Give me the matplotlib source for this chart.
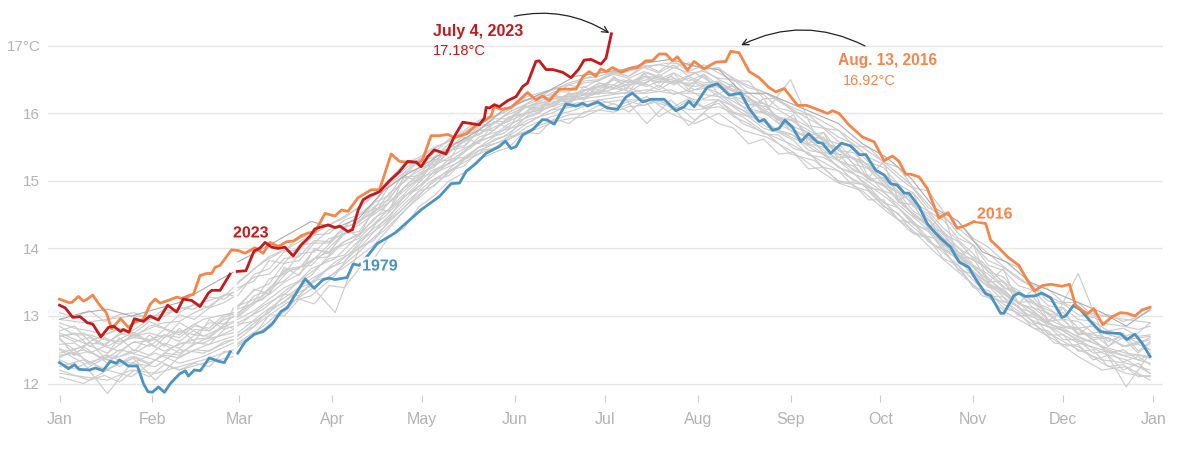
#%% Imports
import numpy as np
import matplotlib
matplotlib.use('Agg')
import matplotlib.pyplot as plt
import matplotlib.patheffects as pe

plt.rcParams['font.family'] = ['Liberation Sans', 'DejaVu Sans']

#%% Data
month_ticks = [0, 31, 60, 91, 121, 152, 182, 213, 244, 274, 305, 335, 365]
month_labels = ['Jan', 'Feb', 'Mar', 'Apr', 'May', 'Jun', 'Jul', 'Aug', 'Sep', 'Oct', 'Nov', 'Dec', 'Jan']
temp_ticks = [12, 13, 14, 15, 16, 17]
temp_labels = ['12', '13', '14', '15', '16', '17°C']

### Days shared by the gray years, first 8 are before the leap day gap
gray_days = [
    0, 8, 16, 24, 32, 40, 48, 58,
    59.5, 68, 76, 84, 92, 100, 108, 116, 124, 132, 140, 148, 156, 164, 172, 180, 188, 196,
    204, 212, 220, 228, 236, 244, 252, 260, 268, 276, 284, 292, 300, 308, 316, 324, 332,
    340, 348, 356, 364,
]
gray_years = [
    [12.95, 12.9, 12.95, 13.0, 13.0, 13.1, 13.2, 13.35,
     13.5, 13.8, 14.0, 14.2, 14.4, 14.6, 14.9, 15.2, 15.45, 15.65, 15.9, 16.0, 16.25, 16.35, 16.45, 16.6, 16.6, 16.7,
     16.75, 16.7, 16.65, 16.45, 16.3, 16.1, 15.95, 15.75, 15.5, 15.25, 14.95, 14.55, 14.3, 14.0, 13.7, 13.45, 13.25,
     13.1, 13.0, 12.95, 12.9],
    [12.15, 12.1, 12.05, 12.2, 12.15, 12.25, 12.35, 12.5,
     12.6, 12.85, 13.15, 13.4, 13.65, 13.95, 14.3, 14.65, 14.95, 15.25, 15.45, 15.6, 15.85, 16.05, 16.1, 16.15, 16.2, 16.2,
     16.1, 16.05, 16.1, 15.95, 15.7, 15.55, 15.35, 15.15, 14.95, 14.65, 14.35, 14.05, 13.75, 13.4, 13.15, 12.9, 12.7,
     12.5, 12.35, 12.3, 12.2],
    [12.75, 12.6, 12.45, 12.7, 12.85, 12.75, 12.95, 13.05,
     13.15, 13.3, 13.7, 13.75, 14.1, 14.4, 14.65, 15.05, 15.25, 15.55, 15.7, 15.95, 16.1, 16.25, 16.25, 16.45, 16.4, 16.6,
     16.45, 16.6, 16.4, 16.3, 16.0, 15.9, 15.7, 15.4, 15.3, 14.95, 14.7, 14.4, 14.0, 13.8, 13.45, 13.2, 13.05,
     12.75, 12.7, 12.55, 12.65],
    [12.4, 12.5, 12.35, 12.45, 12.35, 12.6, 12.6, 12.8,
     12.85, 13.15, 13.35, 13.7, 13.85, 14.2, 14.45, 14.8, 15.15, 15.3, 15.65, 15.75, 16.0, 16.1, 16.3, 16.3, 16.5, 16.4,
     16.55, 16.35, 16.4, 16.15, 16.1, 15.75, 15.6, 15.5, 15.1, 14.9, 14.55, 14.25, 13.95, 13.6, 13.35, 13.05, 12.85,
     12.8, 12.55, 12.45, 12.4],
    [12.5, 12.3, 11.85, 12.3, 12.25, 12.5, 12.45, 12.65,
     12.75, 13.05, 13.3, 13.55, 13.75, 14.05, 14.5, 14.8, 15.05, 15.35, 15.6, 15.7, 15.95, 16.1, 16.2, 16.3, 16.3, 16.35,
     16.3, 16.3, 16.25, 16.0, 15.85, 15.65, 15.5, 15.2, 15.05, 14.8, 14.5, 14.2, 13.85, 13.55, 13.25, 13.0, 12.85,
     12.65, 12.45, 12.35, 12.15],
    [12.25, 12.35, 12.2, 12.4, 12.05, 12.4, 12.55, 12.7,
     12.65, 12.95, 13.2, 13.3, 13.6, 14.1, 14.35, 14.7, 15.0, 15.2, 15.5, 15.65, 15.9, 16.0, 16.15, 16.2, 16.25, 15.85,
     16.2, 15.9, 16.2, 15.85, 15.7, 15.4, 15.3, 15.0, 14.95, 14.6, 14.25, 14.15, 13.7, 13.3, 13.2, 12.95, 12.6,
     12.55, 12.3, 12.15, 12.1],
    [12.35, 12.2, 12.4, 12.3, 12.45, 12.3, 12.4, 12.6,
     12.7, 13.0, 13.25, 13.45, 13.05, 14.0, 14.4, 14.75, 15.1, 15.25, 15.5, 15.75, 15.85, 16.05, 16.2, 16.25, 16.3, 16.3,
     16.35, 16.2, 16.2, 16.05, 15.8, 15.7, 15.45, 15.3, 15.0, 14.75, 14.45, 14.05, 13.9, 13.5, 13.3, 12.95, 12.8,
     12.6, 12.5, 12.4, 12.3],
    [12.7, 12.75, 12.55, 12.75, 12.55, 12.9, 12.7, 12.9,
     13.1, 13.25, 13.65, 13.8, 14.15, 14.35, 14.6, 14.95, 15.2, 15.5, 15.7, 15.85, 16.1, 16.2, 16.3, 16.4, 16.35, 16.55,
     16.5, 16.4, 16.45, 16.3, 16.05, 16.5, 15.7, 15.45, 15.25, 15.0, 14.7, 14.35, 13.95, 13.75, 13.4, 13.25, 12.95,
     13.63, 12.75, 12.65, 12.7],
    [12.45, 12.55, 12.3, 12.6, 12.65, 12.45, 12.65, 12.75,
     12.9, 13.1, 13.4, 13.6, 14.0, 14.15, 14.5, 14.85, 15.2, 15.4, 15.6, 15.85, 16.0, 16.15, 16.25, 16.3, 16.4, 16.5,
     16.45, 16.45, 16.3, 16.1, 16.0, 15.8, 15.55, 15.3, 15.1, 14.9, 14.55, 14.3, 13.9, 13.65, 13.3, 13.1, 12.85,
     12.7, 12.55, 11.95, 12.45],
    [12.1, 12.0, 12.2, 12.1, 12.35, 12.2, 12.3, 12.4,
     12.55, 12.8, 13.1, 13.5, 13.8, 14.0, 14.25, 14.6, 14.9, 15.2, 15.4, 15.55, 15.8, 15.95, 16.05, 16.2, 16.1, 16.25,
     16.0, 15.85, 16.0, 15.75, 15.65, 15.45, 15.2, 14.97, 14.85, 14.55, 14.3, 13.95, 13.65, 13.35, 13.05, 12.85, 12.65,
     12.4, 12.2, 12.25, 12.05],
]
dark_gray_year = [
    12.95, 13.05, 13.1, 13.0, 13.1, 13.2, 13.4, 13.65,
    13.8, 14.0, 14.2, 14.4, 14.3, 14.45, 14.85, 15.1, 15.3, 15.55, 15.75, 16.05, 16.2, 16.35, 16.55, 16.6, 16.65, 16.75,
    16.8, 16.7, 16.65, 16.3, 16.3, 16.15, 16.0, 15.85, 15.55, 15.35, 15.05, 14.6, 14.4, 13.95, 13.8, 13.5, 13.35,
    13.2, 13.05, 12.85, 13.1,
]

### More gray years, read on a finer day grid
fine_days_before = [0, 5, 10, 15, 20, 25, 30, 35, 40, 45, 50, 55, 58]
fine_days_after = [
    59.5, 65, 70, 75, 80, 85, 90, 95, 100, 105, 110, 115,
    120, 125, 130, 135, 140, 145, 150, 155, 160, 165, 170, 175,
    180, 185, 190, 195, 200, 205, 210, 215, 220, 225, 230, 235,
    240, 245, 250, 255, 260, 265, 270, 275, 280, 285, 290, 295,
    300, 305, 310, 315, 320, 325, 330, 335, 340, 345, 350, 355,
    360, 364,
]
fine_years = [
    [12.9, 12.82, 12.78, 12.72, 12.8, 12.7, 12.75, 12.68, 12.78, 12.72, 12.9, 12.88, 13.0,
     13.05, 13.2, 13.32, 13.5, 13.62, 13.85, 13.88, 14.1, 14.2, 14.45, 14.58, 14.9,
     15.02, 15.3, 15.42, 15.6, 15.78, 15.85, 16.02, 16.12, 16.25, 16.28, 16.42, 16.38,
     16.5, 16.58, 16.52, 16.62, 16.55, 16.68, 16.6, 16.62, 16.52, 16.5, 16.3, 16.28,
     16.08, 16.02, 15.82, 15.78, 15.58, 15.5, 15.28, 15.2, 14.95, 14.82, 14.55, 14.42,
     14.15, 14.05, 13.75, 13.68, 13.45, 13.38, 13.15, 13.12, 12.95, 12.92, 12.78, 12.82,
     12.7, 12.72],
    [12.3, 12.22, 12.32, 12.2, 12.3, 12.38, 12.28, 12.45, 12.42, 12.6, 12.58, 12.8, 12.85,
     13.0, 13.22, 13.55, 13.62, 13.92, 13.95, 14.15, 14.2, 14.42, 14.52, 14.82, 14.98,
     15.2, 15.25, 15.5, 15.52, 15.75, 15.75, 15.95, 15.98, 16.15, 16.1, 16.28, 16.2,
     16.35, 16.3, 16.38, 16.3, 16.42, 16.28, 16.35, 16.22, 16.3, 16.12, 16.0, 15.92,
     15.72, 15.68, 15.45, 15.42, 15.2, 15.12, 14.9, 14.85, 14.6, 14.38, 14.25, 13.98,
     13.85, 13.58, 13.45, 13.22, 13.15, 12.9, 12.85, 12.65, 12.65, 12.45, 12.48, 12.32,
     12.4, 12.28],
    [12.65, 12.5, 12.6, 12.58, 12.72, 12.8, 12.95, 13.0, 13.12, 13.1, 13.28, 13.25, 13.35,
     13.38, 13.58, 13.62, 13.85, 13.88, 14.12, 14.1, 14.32, 14.38, 14.62, 14.72, 15.05,
     15.08, 15.35, 15.42, 15.62, 15.68, 15.88, 15.88, 16.1, 16.08, 16.25, 16.2, 16.35,
     16.35, 16.5, 16.4, 16.55, 16.45, 16.52, 16.42, 16.55, 16.38, 16.4, 16.12, 16.15,
     15.9, 15.92, 15.62, 15.65, 15.35, 15.35, 15.02, 15.05, 14.68, 14.65, 14.3, 14.25,
     13.88, 13.85, 13.5, 13.52, 13.2, 13.22, 12.92, 12.95, 12.72, 12.75, 12.55, 12.68,
     12.45, 12.6],
    [12.42, 12.45, 12.32, 12.38, 12.25, 12.4, 12.3, 12.42, 12.38, 12.5, 12.48, 12.62, 12.65,
     12.72, 12.85, 13.1, 13.2, 13.42, 13.5, 13.72, 13.8, 14.02, 14.12, 14.42, 14.6,
     14.85, 14.92, 15.15, 15.22, 15.45, 15.48, 15.65, 15.72, 15.82, 15.9, 15.98, 16.0,
     16.12, 16.08, 16.18, 16.12, 16.22, 16.05, 16.2, 16.08, 16.15, 15.95, 15.85, 15.7,
     15.68, 15.48, 15.42, 15.2, 15.15, 14.92, 14.85, 14.62, 14.52, 14.22, 14.15, 13.85,
     13.75, 13.42, 13.38, 13.12, 13.05, 12.82, 12.78, 12.55, 12.58, 12.35, 12.42, 12.2,
     12.3, 12.15],
    [12.78, 12.85, 12.62, 12.72, 12.82, 12.75, 12.92, 12.82, 13.02, 12.95, 13.12, 13.2, 13.28,
     13.3, 13.62, 13.7, 13.95, 13.98, 14.2, 14.22, 14.42, 14.5, 14.68, 14.95, 15.12,
     15.32, 15.42, 15.62, 15.7, 15.88, 15.95, 16.05, 16.2, 16.22, 16.38, 16.35, 16.45,
     16.48, 16.6, 16.55, 16.68, 16.6, 16.72, 16.55, 16.65, 16.5, 16.4, 16.3, 16.15,
     16.05, 15.92, 15.8, 15.62, 15.55, 15.32, 15.25, 15.0, 14.9, 14.62, 14.52, 14.22,
     14.1, 13.85, 13.7, 13.5, 13.38, 13.2, 13.12, 12.95, 12.92, 12.75, 12.78, 12.7,
     12.75, 12.9],
    [12.2, 12.12, 12.05, 12.12, 12.02, 12.2, 12.1, 12.28, 12.2, 12.3, 12.25, 12.48, 12.45,
     12.58, 12.72, 13.02, 13.0, 13.25, 13.18, 13.45, 13.42, 13.7, 13.85, 14.18, 14.3,
     14.62, 14.78, 15.0, 15.12, 15.32, 15.42, 15.5, 15.72, 15.7, 15.92, 15.85, 16.02,
     16.05, 16.15, 16.02, 16.2, 15.95, 16.08, 15.82, 16.0, 15.85, 15.78, 15.55, 15.62,
     15.4, 15.42, 15.18, 15.2, 14.98, 14.95, 14.72, 14.72, 14.42, 14.38, 14.1, 13.98,
     13.68, 13.62, 13.3, 13.28, 13.0, 13.02, 12.72, 12.72, 12.48, 12.5, 12.25, 12.28,
     12.1, 12.12],
    [12.68, 12.42, 12.62, 12.38, 12.68, 12.48, 12.72, 12.55, 12.82, 12.62, 12.95, 12.8, 13.12,
     13.12, 13.4, 13.32, 13.72, 13.6, 14.0, 13.92, 14.28, 14.18, 14.6, 14.55, 15.08,
     14.98, 15.32, 15.3, 15.65, 15.55, 15.88, 15.78, 16.12, 16.0, 16.3, 16.12, 16.4,
     16.28, 16.55, 16.32, 16.6, 16.38, 16.6, 16.35, 16.58, 16.28, 16.45, 16.05, 16.22,
     15.85, 15.98, 15.55, 15.72, 15.3, 15.5, 15.05, 15.28, 14.72, 14.82, 14.28, 14.52,
     13.85, 14.05, 13.5, 13.7, 13.18, 13.4, 12.92, 13.12, 12.72, 12.9, 12.55, 12.75,
     12.48, 12.62],
    [13.05, 12.98, 13.08, 12.92, 13.02, 13.05, 12.95, 13.1, 13.05, 13.18, 13.12, 13.32, 13.3,
     13.42, 13.52, 13.82, 13.78, 14.05, 14.08, 14.28, 14.32, 14.5, 14.58, 14.92, 15.08,
     15.3, 15.35, 15.55, 15.58, 15.82, 15.85, 16.02, 16.12, 16.2, 16.32, 16.32, 16.48,
     16.5, 16.62, 16.55, 16.72, 16.62, 16.78, 16.62, 16.72, 16.6, 16.48, 16.48, 16.22,
     16.22, 16.02, 15.98, 15.78, 15.75, 15.52, 15.5, 15.28, 15.2, 14.9, 14.85, 14.55,
     14.4, 14.15, 14.02, 13.82, 13.72, 13.45, 13.4, 13.2, 13.2, 13.0, 13.02, 12.92,
     12.98, 13.08],
    [12.52, 12.42, 12.48, 12.35, 12.5, 12.45, 12.58, 12.48, 12.58, 12.65, 12.68, 12.85, 12.82,
     12.88, 12.92, 13.05, 13.32, 13.3, 13.52, 13.58, 13.72, 13.88, 14.05, 14.3, 14.55,
     14.78, 15.02, 15.08, 15.32, 15.4, 15.62, 15.68, 15.92, 16.0, 16.18, 16.18, 16.35,
     16.38, 16.52, 16.45, 16.55, 16.5, 16.6, 16.48, 16.58, 16.42, 16.32, 16.25, 16.0,
     15.95, 15.75, 15.65, 15.42, 15.4, 15.15, 15.08, 14.85, 14.78, 14.48, 14.35, 14.05,
     13.92, 13.65, 13.48, 13.38, 13.12, 13.05, 12.85, 12.78, 12.62, 12.65, 12.45, 12.5,
     12.35, 12.42],
    [12.7, 12.75, 12.55, 12.68, 12.58, 12.75, 12.62, 12.8, 12.72, 12.88, 12.78, 12.95, 12.98,
     12.95, 13.08, 13.25, 13.42, 13.52, 13.68, 13.85, 13.9, 14.12, 14.3, 14.45, 14.78,
     14.88, 15.15, 15.25, 15.42, 15.58, 15.68, 15.85, 15.92, 16.12, 16.15, 16.3, 16.22,
     16.42, 16.38, 16.5, 16.42, 16.58, 16.42, 16.55, 16.45, 16.48, 16.32, 16.2, 16.15,
     15.92, 15.9, 15.68, 15.72, 15.45, 15.42, 15.22, 15.1, 14.95, 14.68, 14.55, 14.3,
     14.12, 13.92, 13.65, 13.58, 13.32, 13.28, 13.02, 13.05, 12.82, 12.85, 12.62, 12.72,
     12.6, 12.68],
    [12.38, 12.5, 12.28, 12.42, 12.4, 12.5, 12.42, 12.6, 12.52, 12.72, 12.7, 12.88, 12.92,
     13.15, 13.38, 13.48, 13.78, 13.82, 14.08, 14.08, 14.3, 14.4, 14.68, 14.78, 15.12,
     15.18, 15.42, 15.48, 15.68, 15.75, 15.92, 15.92, 16.12, 16.05, 16.22, 16.18, 16.28,
     16.32, 16.42, 16.32, 16.45, 16.35, 16.48, 16.32, 16.4, 16.25, 16.22, 16.02, 16.02,
     15.85, 15.72, 15.55, 15.5, 15.3, 15.22, 15.02, 14.95, 14.7, 14.5, 14.32, 14.08,
     13.88, 13.72, 13.48, 13.35, 13.2, 13.08, 12.88, 12.82, 12.68, 12.6, 12.5, 12.42,
     12.42, 12.38],
    [12.85, 12.72, 12.72, 12.65, 12.62, 12.68, 12.65, 12.72, 12.68, 12.85, 12.82, 13.02, 13.02,
     12.98, 13.18, 13.42, 13.52, 13.72, 13.85, 13.95, 14.1, 14.22, 14.42, 14.68, 14.85,
     15.05, 15.12, 15.32, 15.35, 15.5, 15.55, 15.62, 15.72, 15.78, 15.88, 15.92, 15.95,
     16.05, 16.02, 16.1, 16.12, 16.18, 16.1, 16.22, 16.1, 16.2, 16.02, 15.95, 15.78,
     15.72, 15.6, 15.38, 15.35, 15.22, 15.0, 14.92, 14.68, 14.6, 14.35, 14.28, 14.02,
     13.82, 13.65, 13.42, 13.4, 13.18, 13.12, 12.95, 12.85, 12.82, 12.65, 12.68, 12.55,
     12.62, 12.5],
    [12.72, 12.62, 12.68, 12.55, 12.75, 12.68, 12.85, 12.9, 12.92, 13.05, 13.15, 13.3, 13.42,
     13.48, 13.7, 13.88, 13.98, 14.15, 14.22, 14.35, 14.45, 14.62, 14.8, 15.02, 15.25,
     15.35, 15.5, 15.58, 15.72, 15.85, 15.95, 16.08, 16.18, 16.28, 16.35, 16.45, 16.52,
     16.55, 16.62, 16.65, 16.68, 16.72, 16.68, 16.75, 16.65, 16.68, 16.5, 16.38, 16.32,
     16.18, 16.05, 15.92, 15.8, 15.65, 15.55, 15.35, 15.25, 15.05, 14.88, 14.6, 14.5,
     14.22, 14.05, 13.82, 13.72, 13.55, 13.42, 13.22, 13.18, 13.02, 12.98, 12.88, 12.85,
     12.8, 12.85],
    [12.58, 12.6, 12.45, 12.55, 12.48, 12.62, 12.55, 12.72, 12.62, 12.8, 12.78, 12.98, 13.05,
     13.02, 13.3, 13.38, 13.68, 13.7, 13.98, 13.95, 14.22, 14.25, 14.55, 14.68, 14.9,
     15.12, 15.2, 15.45, 15.5, 15.75, 15.75, 15.95, 16.0, 16.18, 16.12, 16.3, 16.28,
     16.45, 16.38, 16.5, 16.45, 16.55, 16.45, 16.52, 16.42, 16.45, 16.25, 16.18, 16.05,
     15.95, 15.8, 15.72, 15.52, 15.48, 15.25, 15.18, 14.95, 14.82, 14.55, 14.42, 14.15,
     14.02, 13.75, 13.62, 13.42, 13.35, 13.12, 13.05, 12.85, 12.82, 12.68, 12.68, 12.55,
     12.58, 12.5],
]

days_1979 = [
    0, 3, 5, 6.5, 10, 12, 14.5, 17, 19, 20, 23, 26, 28, 29.5, 31, 33, 35, 37, 40, 42, 43, 45, 47, 50, 53, 55, 57, 58,
    59.5, 62, 65, 68, 71, 74, 76, 79, 82, 85, 88, 90, 92, 96, 98, 100, 103, 106, 109, 112, 120.6, 126.8, 130.7, 133.5,
    135.7, 139, 142.4, 146.8, 148.8, 150.7, 152.4, 154.6, 157.9, 161.2, 162.9, 165.1, 169, 172.4, 174.6, 176.2, 179.6,
    182.9, 186.2, 189, 191.2, 194.6, 197.4, 201.8, 205.7, 208.5, 210.1, 211.8, 216.2, 219.6, 223.5, 227.4, 230.2, 233.5,
    235.2, 238, 240.2, 242.1, 244.6, 247.4, 250, 253, 254.6, 257.4, 261, 264, 266.9, 269.1, 272.4, 275.2, 277.4, 279.6,
    281.9, 283.5, 286.9, 289.6, 291.3, 294.1, 297.4, 300.2, 303.5, 306.3, 309.1, 310.8, 314.1, 315.2, 318.5, 320.2,
    322.4, 325.8, 327.8, 330.8, 334.6, 335.8, 338.5, 340.8, 344.1, 347.4, 350.2, 354.1, 356.3, 358.9, 361.3, 364,
]
temps_1979 = [
    12.31, 12.22, 12.28, 12.21, 12.2, 12.23, 12.19, 12.33, 12.3, 12.35, 12.26, 12.26, 12.0, 11.88, 11.87, 11.95, 11.87,
    12.0, 12.14, 12.19, 12.11, 12.2, 12.19, 12.38, 12.33, 12.31, 12.47, np.nan,
    12.45, 12.62, 12.73, 12.77, 12.88, 13.07, 13.12, 13.34, 13.55, 13.41, 13.54, 13.56, 13.54, 13.57, 13.77, 13.75, 13.9,
    14.07, 14.15, 14.23, 14.57, 14.77, 14.96, 14.97, 15.14, 15.26, 15.41, 15.51, 15.59, 15.48, 15.51, 15.68, 15.76,
    15.91, 15.9, 15.84, 16.14, 16.11, 16.15, 16.11, 16.17, 16.08, 16.06, 16.24, 16.3, 16.17, 16.21, 16.21, 16.04, 16.1,
    16.18, 16.1, 16.39, 16.44, 16.27, 16.3, 16.07, 15.88, 15.91, 15.75, 15.78, 15.9, 15.8, 15.58, 15.7, 15.57, 15.56,
    15.41, 15.56, 15.52, 15.39, 15.39, 15.16, 15.09, 14.96, 14.94, 14.82, 14.82, 14.62, 14.37, 14.28, 14.15, 14.02, 13.8,
    13.72, 13.51, 13.33, 13.3, 13.04, 13.04, 13.3, 13.34, 13.29, 13.3, 13.34, 13.27, 12.98, 13.0, 13.16, 13.09, 12.92,
    12.77, 12.75, 12.74, 12.65, 12.73, 12.6, 12.4,
]

days_2016 = [
    0, 3, 4.1, 6.3, 8, 9.3, 11.1, 13.6, 15.6, 17.4, 20.4, 23, 25.2, 28, 30.2, 31.9, 33.6, 36.9, 39.1, 40.8, 43.6, 44.7,
    46.9, 49.1, 50.8, 51.9, 53.6, 57.4, 59.6, 61.9, 65.2, 68, 70.2, 73, 75.8, 78, 80.8, 83, 85.2, 86.9, 88.6, 91.9, 94.1,
    96.3, 99.6, 104, 106.8, 110.7, 113.5, 115.7, 120.1, 121.2, 124, 126.8, 129.6, 131.8, 135.9, 139, 142.4, 144, 145.1,
    147.4, 150.7, 153.5, 156.2, 159, 161.2, 163.5, 166.8, 172.4, 174.6, 176.8, 179, 180.7, 182.4, 184.6, 187.4, 190.7,
    192.9, 195.7, 197.9, 200.1, 202.4, 204.6, 206.2, 209.6, 211.8, 215.1, 219, 222.4, 224, 226.8, 230.2, 233.5, 236.9,
    239.1, 241.9, 246.3, 249.3, 253.5, 256.3, 258, 260.2, 263.5, 268, 271.9, 275.2, 278, 280.2, 282.4, 284.1, 286.9,
    289.6, 293.5, 296.6, 299.6, 302.4, 305.2, 309.1, 310.8, 313.5, 316.3, 320.2, 323, 325.4, 328, 330.8, 334.6, 337.1,
    339.1, 343, 345.2, 348.2, 351.3, 354.1, 356.3, 358.9, 361.3, 364,
]
temps_2016 = [
    13.25, 13.2, 13.2, 13.29, 13.22, 13.25, 13.31, 13.15, 13.05, 12.81, 12.96, 12.83, 12.91, 12.95, 13.17, 13.25, 13.19,
    13.24, 13.28, 13.26, 13.31, 13.32, 13.6, 13.63, 13.63, 13.72, 13.75, 13.98, 13.97, 13.93, 14.01, 13.93, 14.09, 14.03,
    14.1, 14.11, 14.19, 14.23, 14.24, 14.38, 14.52, 14.48, 14.57, 14.55, 14.75, 14.87, 14.87, 15.4, 15.29, 15.28, 15.27,
    15.32, 15.67, 15.67, 15.69, 15.64, 15.7, 15.82, 15.91, 15.96, 16.1, 16.06, 16.09, 16.2, 16.31, 16.2, 16.26, 16.19,
    16.36, 16.36, 16.54, 16.62, 16.55, 16.66, 16.62, 16.68, 16.61, 16.67, 16.68, 16.78, 16.78, 16.88, 16.88, 16.78, 16.84,
    16.64, 16.77, 16.66, 16.76, 16.77, 16.92, 16.9, 16.62, 16.53, 16.38, 16.32, 16.37, 16.12, 16.12, 16.05, 16.0, 16.04,
    16.0, 15.83, 15.65, 15.58, 15.3, 15.37, 15.29, 15.1, 15.1, 15.06, 14.89, 14.45, 14.53, 14.3, 14.34, 14.4, 14.37, 14.12,
    14.01, 13.88, 13.75, 13.53, 13.37, 13.45, 13.47, 13.44, 13.47, 13.16, 13.03, 13.11, 12.87, 12.99, 13.05, 13.04, 13.0,
    13.09, 13.13,
]

days_2023 = [
    0, 1.9, 4.4, 6.9, 9.3, 11.1, 13.8, 16.3, 18, 20.4, 21.3, 23.2, 25, 28, 30.2, 33, 36.1, 39.1, 41.3, 44.1, 46.9, 49.7,
    50.8, 53.6, 56.9, 58, 59.3, 62.2, 64.9, 67, 68.6, 70.8, 73, 75.2, 78, 80.8, 83.6, 85.2, 89.7, 91.9, 93.6, 96.3, 97.8,
    99.7, 101.3, 103.5, 106.8, 110.1, 113.5, 116.2, 119, 120.7, 122.9, 125.1, 129, 131.8, 134.6, 137.4, 140.1, 141.8,
    142.4, 143.5, 145.1, 146.8, 149.6, 152.4, 154.6, 156.2, 159, 160.1, 162.4, 164.6, 167.9, 170.7, 173.2, 175.1, 177.4,
    180.7, 182.4, 184.2,
]
temps_2023 = [
    13.16, 13.12, 12.98, 12.99, 12.9, 12.88, 12.69, 12.83, 12.85, 12.77, 12.8, 12.76, 12.96, 12.92, 13.0, 12.94, 13.16,
    13.06, 13.25, 13.23, 13.14, 13.34, 13.38, 13.38, 13.62, np.nan, 13.66, 13.67, 13.96, 14.01, 14.09, 14.02, 14.0, 14.02,
    13.89, 14.06, 14.18, 14.29, 14.35, 14.31, 14.33, 14.25, 14.28, 14.57, 14.72, 14.78, 14.84, 15.0, 15.14, 15.29, 15.28,
    15.21, 15.36, 15.46, 15.4, 15.66, 15.87, 15.85, 15.83, 15.93, 16.09, 16.08, 16.13, 16.1, 16.19, 16.25, 16.4, 16.45,
    16.77, 16.78, 16.65, 16.65, 16.61, 16.53, 16.65, 16.79, 16.8, 16.73, 16.82, 17.18,
]

#%% Plot
red = '#c5191c'
orange = '#f58549'
blue = '#4b93c3'
gray = '#cccccc'
axis_gray = '#b3b3b3'

f = plt.figure(figsize=(12, 4.55), dpi=100)
ax = f.add_axes([48/1200, 60/455, 1115/1200, 395/455])
for year in gray_years:
    ax.plot(gray_days[:8], year[:8], color=gray, lw=0.85, zorder=2)
    ax.plot(gray_days[8:], year[8:], color=gray, lw=0.85, zorder=2)
for year in fine_years:
    ax.plot(fine_days_before, year[:13], color=gray, lw=0.85, zorder=2)
    ax.plot(fine_days_after, year[13:], color=gray, lw=0.85, zorder=2)
ax.plot(gray_days[:8], dark_gray_year[:8], color='#ababab', lw=0.8, zorder=2)
ax.plot(gray_days[8:], dark_gray_year[8:], color='#ababab', lw=0.8, zorder=2)
ax.plot(days_1979, temps_1979, color=blue, lw=2, zorder=3)
ax.plot(days_2016, temps_2016, color=orange, lw=2, zorder=3)
ax.plot(days_2023, temps_2023, color=red, lw=2, zorder=4)

### Axes
ax.set_xlim(-3.84, 368.3)
ax.set_ylim(11.83, 17.68)
for side in ['top', 'right', 'bottom', 'left']:
    ax.spines[side].set_visible(False)
ax.set_xticks(month_ticks)
ax.set_xticklabels(month_labels)
ax.set_yticks(temp_ticks)
ax.set_yticklabels(temp_labels)
ax.tick_params(axis='x', length=5, width=0.8, color=gray, labelcolor=axis_gray, labelsize=11.5, pad=7.5)
ax.tick_params(axis='y', length=0, labelcolor=axis_gray, labelsize=11, pad=5.5)
ax.grid(axis='y', color='#e6e6e6', lw=1)
ax.set_axisbelow(True)

### Labels, the white outline cuts the lines like in the original
halo = [pe.withStroke(linewidth=4, foreground='white')]
ax.text(57.9, 14.23, '2023', color=red, fontsize=11.5, fontweight='bold', va='center', path_effects=halo, zorder=6)
ax.text(101, 13.74, '1979', color=blue, fontsize=11.5, fontweight='bold', va='center', path_effects=halo, zorder=6)
ax.text(306.2, 14.51, '2016', color=orange, fontsize=11.5, fontweight='bold', va='center', path_effects=halo, zorder=6)
ax.text(124.7, 17.22, 'July 4, 2023', color=red, fontsize=11.5, fontweight='bold', va='center', zorder=6)
ax.text(124.7, 16.93, '17.18°C', color=red, fontsize=10.5, va='center', zorder=6)
ax.text(259.9, 16.79, 'Aug. 13, 2016', color=orange, fontsize=11.2, fontweight='bold', va='center', zorder=6)
ax.text(261.5, 16.48, '16.92°C', color=orange, fontsize=10.5, va='center', zorder=6)

### Arrows
ax.annotate(
    '', xy=(183.5, 17.19), xytext=(151.8, 17.44),
    arrowprops=dict(arrowstyle='->', color='#222222', lw=0.9, mutation_scale=11,
                    connectionstyle='arc3,rad=-0.2', shrinkA=0, shrinkB=0),
    zorder=6,
)
ax.annotate(
    '', xy=(227.5, 17.01), xytext=(268.8, 17.0),
    arrowprops=dict(arrowstyle='->', color='#222222', lw=0.9, mutation_scale=11,
                    connectionstyle='arc3,rad=0.25', shrinkA=0, shrinkB=0),
    zorder=6,
)

#%% Write it
f.savefig('out.png', dpi=100)
